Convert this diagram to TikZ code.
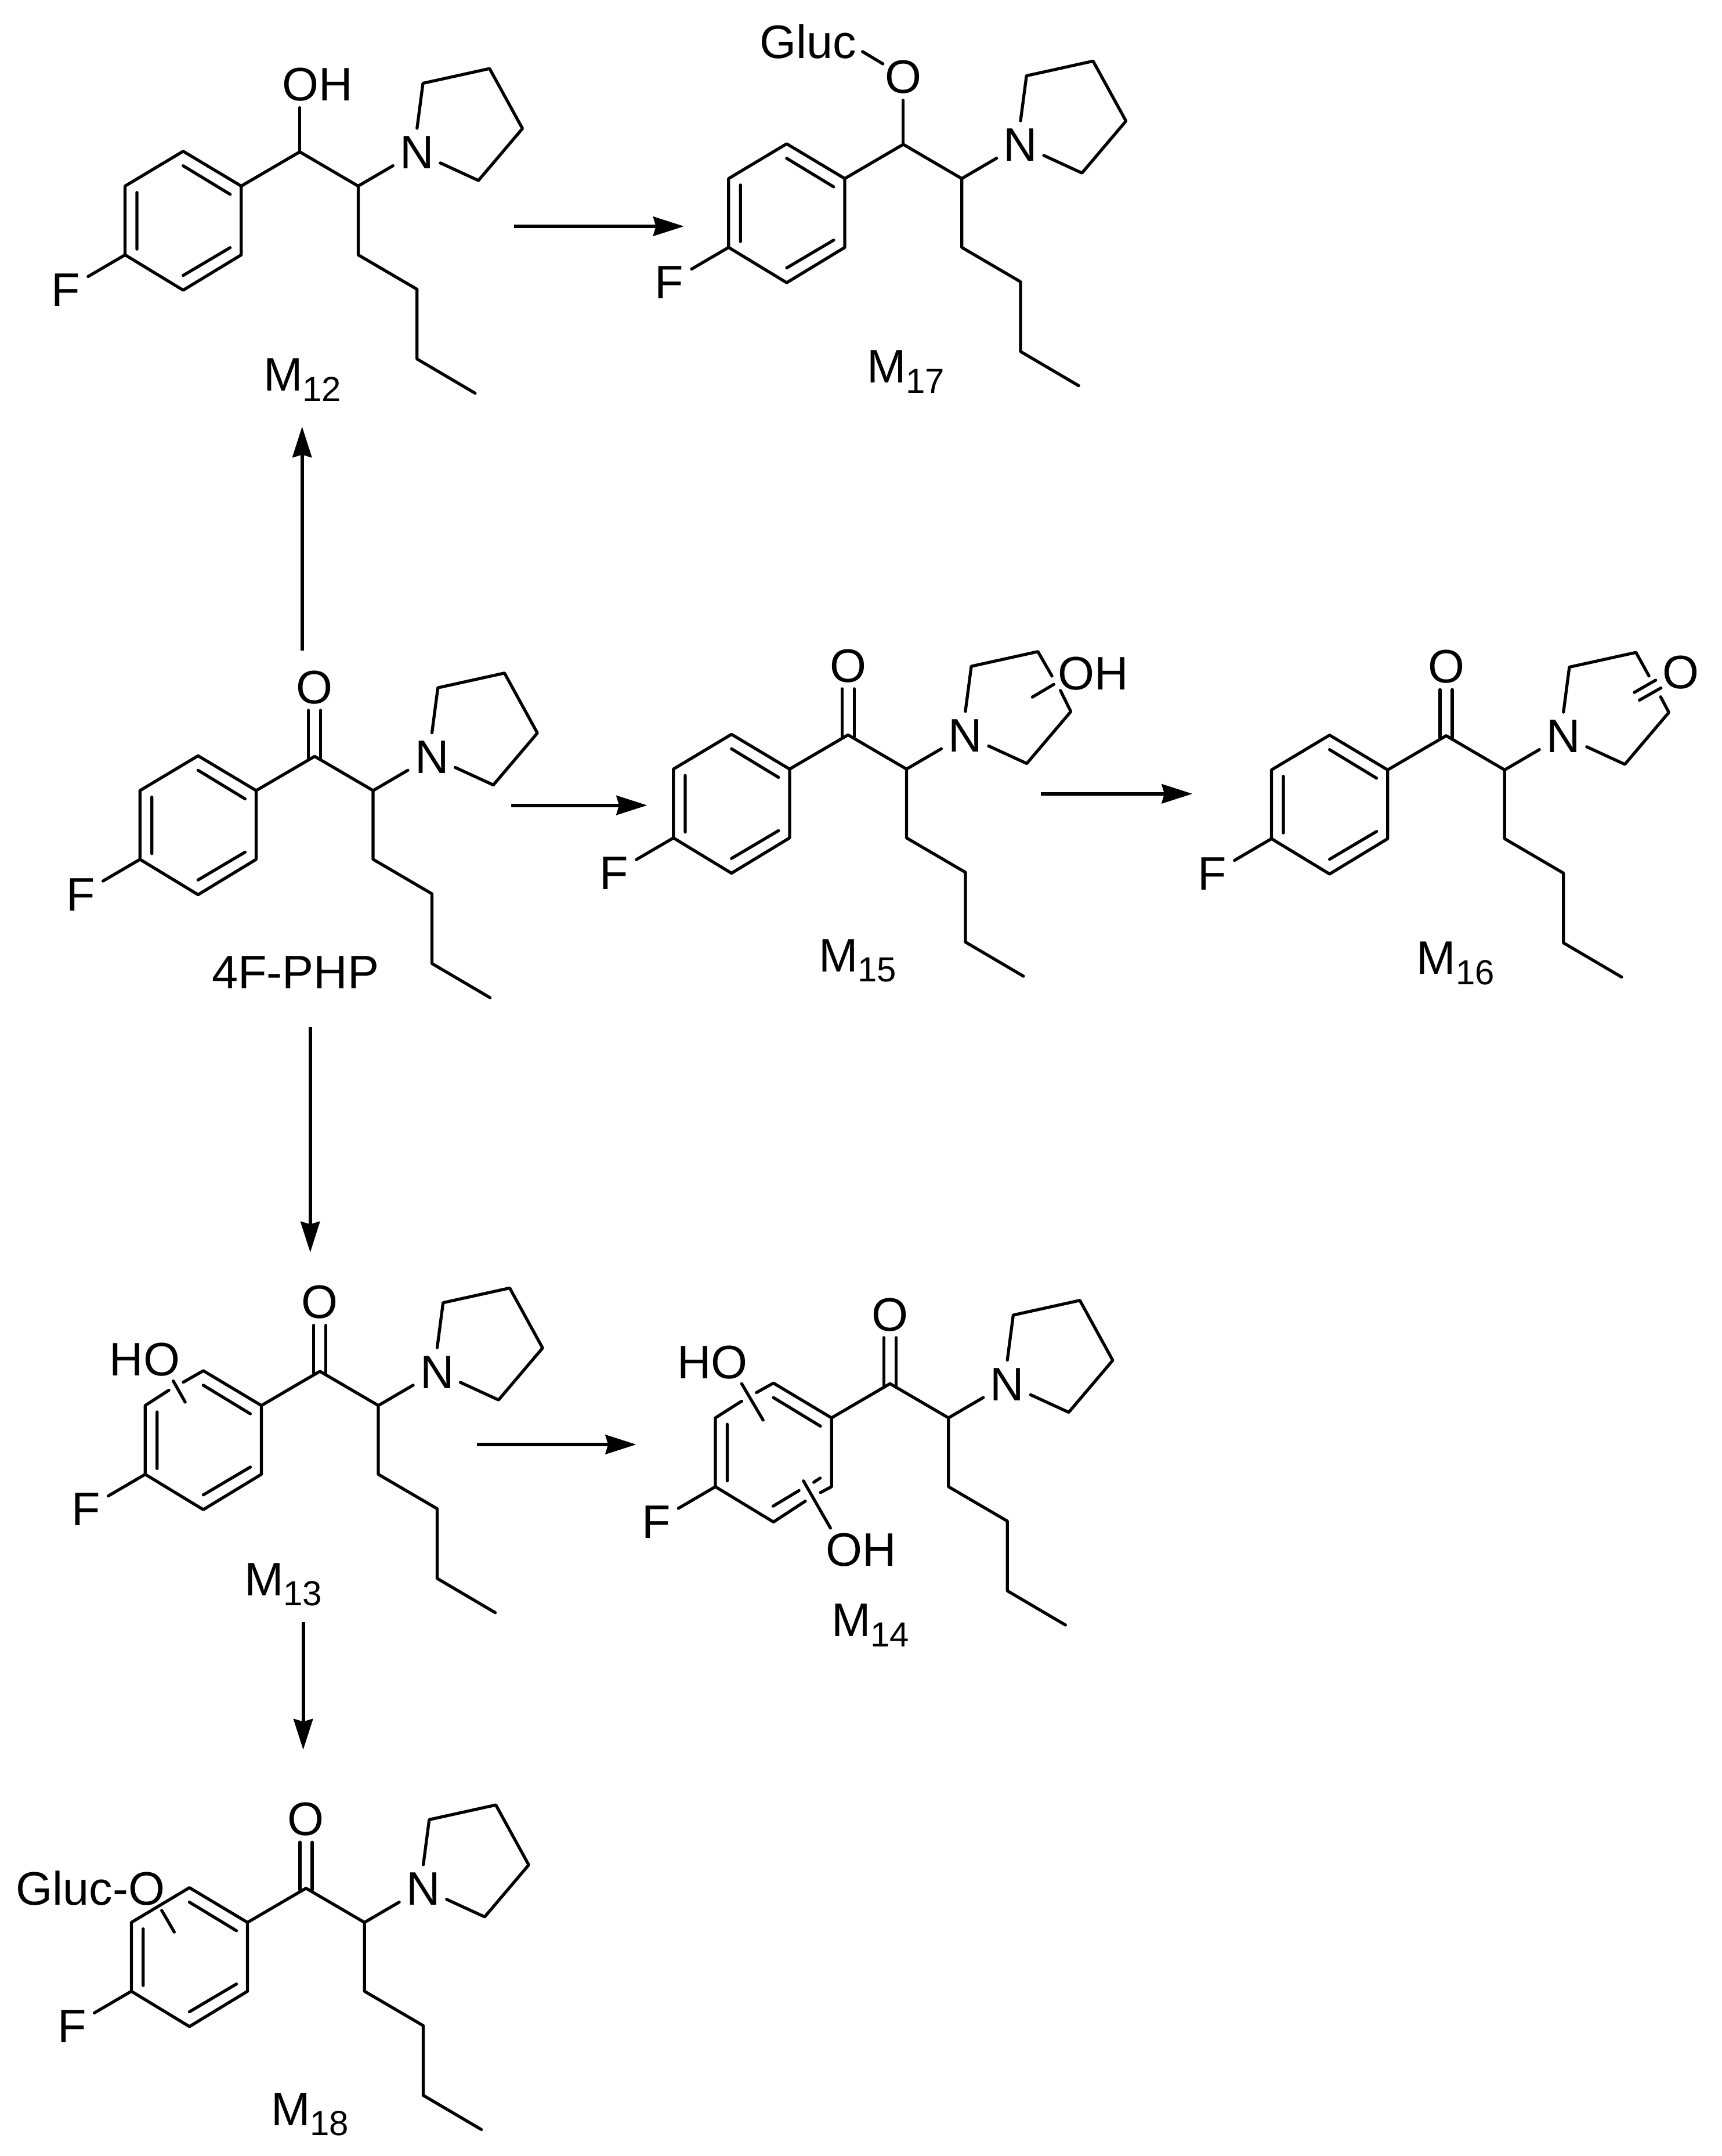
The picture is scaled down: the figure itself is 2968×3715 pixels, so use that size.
\documentclass[tikz,border=0pt]{standalone}
\usepackage{fontspec}
\setmainfont{Liberation Sans}
\usetikzlibrary{arrows.meta}
\newcommand{\metlab}[1]{M\raisebox{-3.5pt}{\fontsize{12pt}{14pt}\selectfont #1}}
\tikzset{
  bond/.style={line width=1.05pt,line cap=round,line join=round,black},
  rxn/.style={line width=1.2pt,-{Stealth[length=10.6pt,width=6.6pt,inset=0.9pt]},black},
  atom/.style={inner sep=0pt,anchor=base,font=\fontsize{16.2pt}{18pt}\selectfont},
  lab/.style={inner sep=0pt,anchor=base west,font=\fontsize{16.2pt}{18pt}\selectfont},
  core/.pic={
    \coordinate (-c1) at (0,0);
    \coordinate (-r1) at (-200.9,-1);
    \coordinate (-r2) at (-100.8,58.9);
    \coordinate (-r3) at (-100.8,177.5);
    \coordinate (-r4) at (-200.9,238.3);
    \coordinate (-r5) at (-301,177.5);
    \coordinate (-r6) at (-301,58.9);
    \coordinate (-i1) at (-200.9,24);
    \coordinate (-i2) at (-119.9,73.2);
    \coordinate (-i3) at (-280.6,70);
    \coordinate (-i4) at (-280.6,167.5);
    \coordinate (-i5) at (-200.9,212.9);
    \coordinate (-i6) at (-119.9,165);
    \coordinate (-c2) at (100.8,58.9);
    \coordinate (-c3) at (100.8,177.5);
    \coordinate (-c4) at (202.2,236.8);
    \coordinate (-c5) at (202.2,356.9);
    \coordinate (-c6) at (302.3,415.8);
    \coordinate (-nb) at (160.7,23.9);
    \coordinate (-fb) at (-364.8,214.8);
    \coordinate (-pa) at (202.2,-40.7);
    \coordinate (-pb) at (212.4,-118.2);
    \coordinate (-pc) at (327.2,-143.5);
    \coordinate (-pd) at (383.9,-40.2);
    \coordinate (-pe) at (308,49.3);
    \coordinate (-pf) at (242.3,19.1);
    \draw[bond] (-r2)--(-c1)--(-c2)--(-c3)--(-c4)--(-c5)--(-c6);
    \draw[bond] (-c2)--(-nb);
    \draw[bond] (-r5)--(-fb);
    \node[atom] (-n) at (202.2,29.2) {N};
    \node[lab] (-f) at (-429,266) {F};
  },
  carbonyl/.pic={
    \coordinate (-l1) at (-10.5,-79.4);
    \coordinate (-l2) at (-10.5,3);
    \coordinate (-r1) at (10.5,-79.4);
    \coordinate (-r2) at (10.5,3);
    \draw[bond] (-l1)--(-l2) (-r1)--(-r2);
    \node[atom] (-o) at (0,-91) {O};
  }
}
\newcommand{\ringfull}[1]{%
  \draw[bond] (#1-r1)--(#1-r2)--(#1-r3)--(#1-r4)--(#1-r5)--(#1-r6)--cycle;
  \draw[bond] (#1-i1)--(#1-i2) (#1-i3)--(#1-i4) (#1-i5)--(#1-i6);}
\newcommand{\pyrfull}[1]{%
  \draw[bond] (#1-pa)--(#1-pb)--(#1-pc)--(#1-pd)--(#1-pe)--(#1-pf);}
\begin{document}
\begin{tikzpicture}[x=0.2pt,y=-0.2pt]
\useasboundingbox (0,0) rectangle (2968,3715);

% M12
\pic (m12) at (516.6,261.7) {core};
\ringfull{m12}\pyrfull{m12}
\begin{scope}[shift={(m12-c1)}]
  \coordinate (m12ob) at (0,-76);
  \draw[bond] (m12-c1)--(m12ob);
  \node[lab] (m12oh) at (-31,-88.5) {OH};
\end{scope}
\node[lab] (m12lab) at (453,673.7) {\metlab{12}};

% M17
\pic (m17) at (1556.8,248.8) {core};
\ringfull{m17}\pyrfull{m17}
\begin{scope}[shift={(m17-c1)}]
  \coordinate (m17ob) at (0,-76);
  \draw[bond] (m17-c1)--(m17ob);
  \node[atom] (m17o) at (0,-88.5) {O};
\end{scope}
\node[lab] (m17gluc) at (1308.5,100.5) {Gluc};
\coordinate (m17ga) at (1486.6,89);
\coordinate (m17gb) at (1521.7,110);
\draw[bond] (m17ga)--(m17gb);
\node[lab] (m17lab) at (1493,660) {\metlab{17}};

% 4F-PHP
\pic (php) at (542.3,1303.3) {core};
\pic (phpco) at (542.3,1303.3) {carbonyl};
\ringfull{php}\pyrfull{php}
\node[lab] (phplab) at (364,1703.8) {4F-PHP};

% M15
\pic (m15) at (1461.7,1266.3) {core};
\pic (m15co) at (1461.7,1266.3) {carbonyl};
\ringfull{m15}
\begin{scope}[shift={(m15-c1)}]
  \coordinate (m15g1) at (351.4,-101.4);
  \coordinate (m15g2) at (366,-76.6);
  \coordinate (m15s1) at (317.6,-65.1);
  \coordinate (m15s2) at (354.6,-87.1);
  \draw[bond] (m15-pa)--(m15-pb)--(m15-pc)--(m15g1);
  \draw[bond] (m15g2)--(m15-pd)--(m15-pe)--(m15-pf);
  \draw[bond] (m15s1)--(m15s2);
\end{scope}
\node[lab] (m15oh) at (1822,1188.8) {OH};
\node[lab] (m15lab) at (1410,1674.4) {\metlab{15}};

% M16
\pic (m16) at (2492.5,1267.7) {core};
\pic (m16co) at (2492.5,1267.7) {carbonyl};
\ringfull{m16}
\begin{scope}[shift={(m16-c1)}]
  \coordinate (m16g1) at (349.6,-102.9);
  \coordinate (m16g2) at (369.7,-67);
  \coordinate (m16a1) at (324.3,-74.6);
  \coordinate (m16a2) at (361.1,-95.7);
  \coordinate (m16b1) at (333,-61.2);
  \coordinate (m16b2) at (370.3,-82.3);
  \draw[bond] (m16-pa)--(m16-pb)--(m16-pc)--(m16g1);
  \draw[bond] (m16g2)--(m16-pd)--(m16-pe)--(m16-pf);
  \draw[bond] (m16a1)--(m16a2) (m16b1)--(m16b2);
\end{scope}
\node[lab] (m16o) at (2864,1186) {O};
\node[lab] (m16lab) at (2440.6,1678.7) {\metlab{16}};

% M13
\pic (m13) at (551.3,2362.9) {core};
\pic (m13co) at (551.3,2362.9) {carbonyl};
\pyrfull{m13}
\begin{scope}[shift={(m13-c1)}]
  \coordinate (m13g1) at (-260.2,32.5);
  \coordinate (m13g2) at (-235.3,18.7);
  \coordinate (m13s1) at (-252.6,16.7);
  \coordinate (m13s2) at (-232.1,53.1);
  \draw[bond] (m13g2)--(m13-r1)--(m13-r2)--(m13-r3)--(m13-r4)--(m13-r5)--(m13-r6)--(m13g1);
  \draw[bond] (m13-i1)--(m13-i2) (m13-i3)--(m13-i4) (m13-i5)--(m13-i6);
  \draw[bond] (m13s1)--(m13s2);
  \node[lab] (m13ho) at (-363.6,7.2) {HO};
\end{scope}
\node[lab] (m13lab) at (420,2749) {\metlab{13}};

% M14
\pic (m14) at (1534,2384.2) {core};
\pic (m14co) at (1534,2384.2) {carbonyl};
\pyrfull{m14}
\begin{scope}[shift={(m14-c1)}]
  \coordinate (m14g1) at (-255.7,30.1);
  \coordinate (m14g2) at (-230.2,15.3);
  \coordinate (m14g3) at (-146,202.4);
  \coordinate (m14g4) at (-119.9,187.6);
  \coordinate (m14j1) at (-156.9,184.2);
  \coordinate (m14j2) at (-131.4,169.9);
  \coordinate (m14j3) at (-120.5,162.7);
  \coordinate (m14j4) at (-201.5,211);
  \coordinate (m14s1) at (-255.7,0);
  \coordinate (m14s2) at (-218.8,62.7);
  \coordinate (m14s3) at (-149.2,167.5);
  \coordinate (m14s4) at (-102.7,248.8);
  \draw[bond] (m14g2)--(m14-r1)--(m14-r2)--(m14-r3)--(m14g4);
  \draw[bond] (m14g3)--(m14-r4)--(m14-r5)--(m14-r6)--(m14g1);
  \draw[bond] (m14-i1)--(m14-i2) (m14-i3)--(m14-i4);
  \draw[bond] (m14j4)--(m14j1) (m14j2)--(m14j3);
  \draw[bond] (m14s1)--(m14s2) (m14s3)--(m14s4);
  \node[lab] (m14ho) at (-368,-8.6) {HO};
  \node[lab] (m14oh) at (-111.8,314.4) {OH};
\end{scope}
\node[lab] (m14lab) at (1432,2819.6) {\metlab{14}};

% M18
\pic (m18) at (527.4,3253.6) {core};
\pic (m18co) at (527.4,3253.6) {carbonyl};
\ringfull{m18}\pyrfull{m18}
\begin{scope}[shift={(m18-c1)}]
  \coordinate (m18s1) at (-248.7,38.2);
  \coordinate (m18s2) at (-227,75.5);
  \draw[bond] (m18s1)--(m18s2);
\end{scope}
\node[lab] (m18gluc) at (26.6,3282.4) {Gluc-O};
\node[lab] (m18lab) at (466,3662) {\metlab{18}};

% reaction arrows
\coordinate (a1) at (886,390);    \coordinate (a2) at (1179,390);
\coordinate (b1) at (520.7,1120.6); \coordinate (b2) at (520.7,735);
\coordinate (c1) at (881,1387.6);   \coordinate (c2) at (1115.5,1387.6);
\coordinate (d1) at (1794,1367.8);  \coordinate (d2) at (2055.4,1367.8);
\coordinate (e1) at (534.7,1769.9); \coordinate (e2) at (534.7,2158);
\coordinate (f1) at (821.7,2489);   \coordinate (f2) at (1096.6,2489);
\coordinate (g1) at (522.6,2794.5); \coordinate (g2) at (522.6,3015);
\draw[rxn] (a1)--(a2);
\draw[rxn] (b1)--(b2);
\draw[rxn] (c1)--(c2);
\draw[rxn] (d1)--(d2);
\draw[rxn] (e1)--(e2);
\draw[rxn] (f1)--(f2);
\draw[rxn] (g1)--(g2);
\end{tikzpicture}
\end{document}
